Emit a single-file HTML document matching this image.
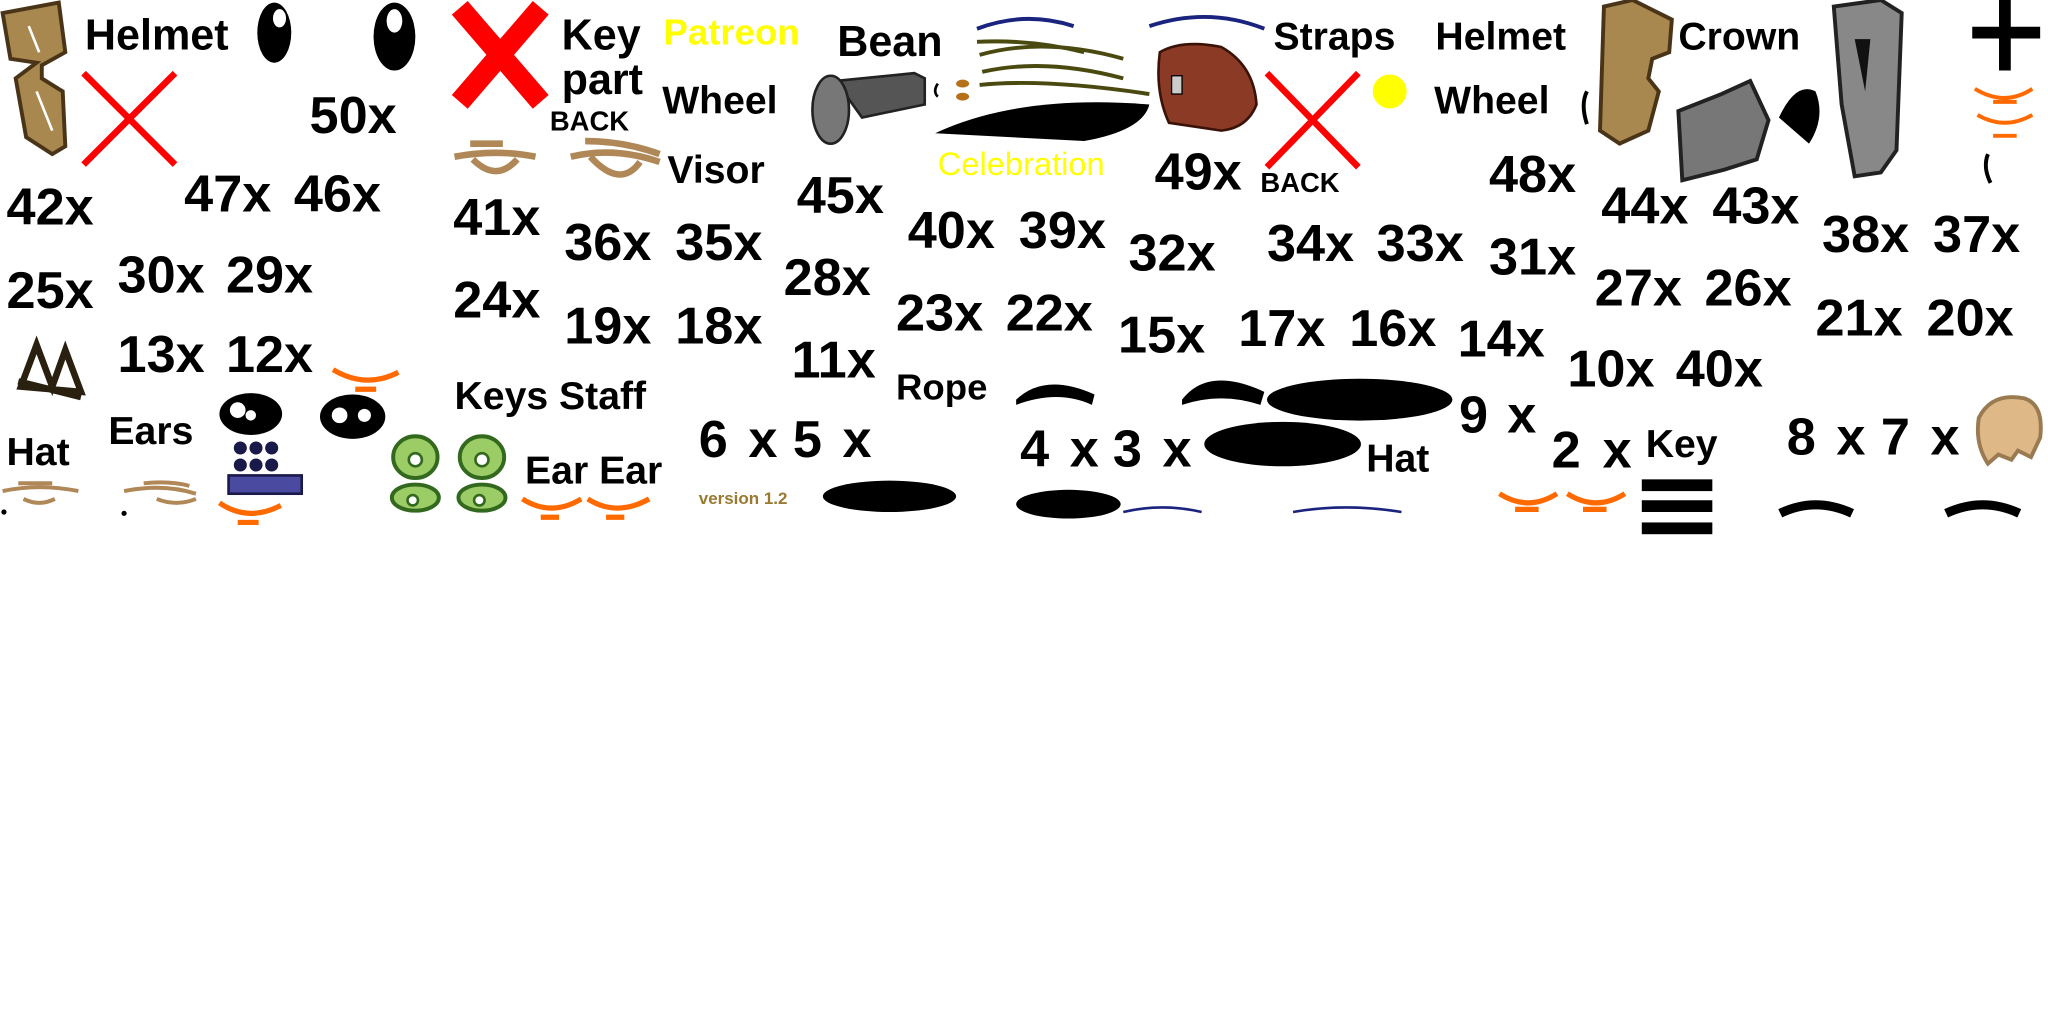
<!DOCTYPE html>
<html><head><meta charset="utf-8"><style>
html,body{margin:0;padding:0;background:#fff;width:2048px;height:1024px;overflow:hidden}
svg{display:block}
text{font-family:"Liberation Sans",Arial,sans-serif;font-weight:bold;fill:#000}
.n{font-size:40px}
.l{font-size:33px}
</style></head><body>
<svg width="2048" height="1024" viewBox="0 0 1568 784" xmlns="http://www.w3.org/2000/svg">
<rect width="1568" height="784" fill="#fff"/>
<path d="M2 10 L45 2 L50 40 L32 50 L32 60 L48 70 L50 112 L40 118 L20 105 L12 60 L28 48 L8 45 Z" fill="#a8884e" stroke="#4a3418" stroke-width="3"/>
<path d="M22 20 L30 40 M28 70 L40 100" stroke="#fff" stroke-width="2"/>
<path d="M64 56 L134 126 M134 56 L64 126" stroke="#f00" stroke-width="5"/>
<ellipse cx="210" cy="25" rx="13" ry="23" fill="#000"/><ellipse cx="214" cy="14" rx="5" ry="7" fill="#fff"/>
<ellipse cx="302" cy="28" rx="16" ry="26" fill="#000"/><ellipse cx="302" cy="16" rx="6" ry="9" fill="#fff"/>
<path d="M352 6 L414 78 M414 6 L352 78" stroke="#f00" stroke-width="16"/>
<path d="M348 120 Q380 114 410 120 M360 110 L385 110 M362 122 Q380 140 396 122" stroke="#b08858" stroke-width="5" fill="none"/>
<path d="M437 120 Q470 112 505 124 M448 108 Q478 108 505 118 M452 120 Q475 145 490 124" stroke="#b08858" stroke-width="5" fill="none"/>
<path d="M748 22 Q785 8 822 20" stroke="#1a237e" stroke-width="3" fill="none"/>
<path d="M880 20 Q925 5 968 22" stroke="#1a237e" stroke-width="3" fill="none"/>
<path d="M750 42 Q800 28 860 45 M752 55 Q800 44 860 60 M750 65 Q800 60 880 72 M748 32 Q790 30 830 40" stroke="#4a4a10" stroke-width="3" fill="none"/>
<path d="M716 102 Q780 72 880 80 Q875 100 830 108 Z" fill="#000"/>
<path d="M640 62 L700 56 L708 60 L708 80 L660 90 Z" fill="#555" stroke="#222" stroke-width="2"/>
<ellipse cx="636" cy="84" rx="14" ry="26" fill="#777" stroke="#222" stroke-width="2"/>
<path d="M718 64 Q714 70 718 74" stroke="#000" stroke-width="2" fill="none"/>
<ellipse cx="737" cy="64" rx="5" ry="3" fill="#b5701a"/><ellipse cx="737" cy="74" rx="5" ry="3" fill="#b5701a"/>
<path d="M888 40 Q905 30 935 36 Q960 50 962 80 Q955 98 935 100 L895 94 Q884 70 888 40 Z" fill="#8b3a26" stroke="#3a1208" stroke-width="2"/>
<rect x="897" y="58" width="8" height="14" fill="#ccc" stroke="#000"/>
<path d="M970 56 L1040 128 M1040 56 L970 128" stroke="#f00" stroke-width="5"/>
<circle cx="1064" cy="70" r="13" fill="#ffff00"/>
<path d="M1228 5 L1250 0 L1280 15 L1278 40 L1265 45 L1262 60 L1270 70 L1262 100 L1240 110 L1225 100 Z" fill="#a8884e" stroke="#4a3418" stroke-width="3"/>
<path d="M1215 70 Q1210 80 1215 95" stroke="#000" stroke-width="3" fill="none"/>
<path d="M1285 85 L1318 72 L1340 62 L1354 92 L1345 122 L1320 130 L1288 138 Z" fill="#777" stroke="#222" stroke-width="3"/>
<path d="M1362 90 Q1375 62 1390 70 Q1398 90 1385 110 Z" fill="#000"/>
<path d="M1404 5 L1440 0 L1456 10 L1452 115 L1440 132 L1420 135 L1410 80 Z" fill="#888" stroke="#222" stroke-width="3"/>
<path d="M1420 30 L1432 30 L1428 70 Z" fill="#111"/>
<path d="M1535 0 L1535 54 M1510 25 L1562 25" stroke="#000" stroke-width="9"/>
<path d="M1512 68 Q1535 82 1556 68 M1526 78 L1544 78 M1514 88 Q1535 100 1556 88 M1526 104 L1544 104" stroke="#ff6a00" stroke-width="3" fill="none"/>
<path d="M1522 118 Q1518 128 1524 140" stroke="#000" stroke-width="3" fill="none"/>
<path d="M16 296 L28 264 L40 296 L50 268 L62 300 Z M14 292 L62 304" stroke="#2a2010" stroke-width="5" fill="none"/>
<g stroke="#ff6a00" stroke-width="4" fill="none">
<path d="M255 283 Q280 298 305 285 M272 298 L288 298"/>
<path d="M168 385 Q190 400 215 387 M182 400 L198 400"/>
<path d="M400 382 Q422 396 445 382 M414 396 L428 396"/>
<path d="M450 382 Q472 396 497 382 M464 396 L478 396"/>
<path d="M1148 378 Q1170 392 1192 378 M1160 390 L1178 390"/>
<path d="M1200 378 Q1222 392 1244 378 M1212 390 L1230 390"/>
</g>
<ellipse cx="192" cy="317" rx="24" ry="16" fill="#000"/><circle cx="182" cy="314" r="6" fill="#fff"/><circle cx="192" cy="318" r="4" fill="#fff"/>
<ellipse cx="270" cy="319" rx="25" ry="17" fill="#000"/><circle cx="260" cy="318" r="6" fill="#fff"/><circle cx="279" cy="318" r="5" fill="#fff"/>
<g fill="#1a1a4a"><circle cx="184" cy="343" r="5"/><circle cx="196" cy="343" r="5"/><circle cx="208" cy="343" r="5"/><circle cx="184" cy="356" r="5"/><circle cx="196" cy="356" r="5"/><circle cx="208" cy="356" r="5"/></g>
<rect x="175" y="364" width="56" height="14" fill="#4a4aa0" stroke="#1a1a4a" stroke-width="2"/>
<g fill="#9ccc65" stroke="#33691e" stroke-width="3">
<ellipse cx="318" cy="350" rx="17" ry="16"/><ellipse cx="369" cy="350" rx="17" ry="16"/>
<ellipse cx="318" cy="381" rx="18" ry="10"/><ellipse cx="369" cy="381" rx="18" ry="10"/>
</g>
<g fill="#fff" stroke="#33691e" stroke-width="2"><circle cx="318" cy="352" r="5"/><circle cx="369" cy="352" r="5"/><circle cx="316" cy="383" r="4"/><circle cx="367" cy="383" r="4"/></g>
<path d="M2 376 Q30 370 60 376 M14 370 L40 370 M18 382 Q30 388 42 382" stroke="#b08858" stroke-width="3" fill="none"/>
<path d="M95 376 Q125 370 150 378 M110 370 Q130 368 145 372 M120 382 Q135 388 150 382" stroke="#b08858" stroke-width="3" fill="none"/>
<circle cx="3" cy="392" r="2" fill="#000"/><circle cx="95" cy="393" r="2" fill="#000"/>
<ellipse cx="681" cy="380" rx="51" ry="12" fill="#000"/>
<path d="M778 306 Q800 285 838 302 L836 310 Q810 298 778 310 Z" fill="#000"/>
<path d="M905 306 Q925 280 968 300 L965 310 Q935 300 905 310 Z" fill="#000"/>
<ellipse cx="1041" cy="306" rx="71" ry="16" fill="#000"/>
<ellipse cx="982" cy="340" rx="60" ry="17" fill="#000"/>
<ellipse cx="818" cy="386" rx="40" ry="11" fill="#000"/>
<path d="M860 392 Q890 385 920 392 M990 392 Q1030 385 1073 392" stroke="#1a237e" stroke-width="2" fill="none"/>
<rect x="1257" y="367" width="54" height="9" fill="#000"/><rect x="1257" y="383" width="54" height="9" fill="#000"/><rect x="1257" y="400" width="54" height="9" fill="#000"/>
<path d="M1363 393 Q1390 380 1418 393" stroke="#000" stroke-width="7" fill="none"/>
<path d="M1490 393 Q1518 380 1546 393" stroke="#000" stroke-width="7" fill="none"/>
<path d="M1515 320 Q1525 300 1550 305 Q1565 310 1562 335 L1555 350 L1545 345 L1540 352 L1530 348 L1522 355 Q1512 340 1515 320 Z" fill="#deb887" stroke="#9a7a50" stroke-width="3"/>

<text x="65" y="38" class="l">Helmet</text>
<text x="430" y="38" class="l">Key</text>
<text x="430" y="72" class="l">part</text>
<text x="421" y="100" font-size="21">BACK</text>
<text x="508" y="34" font-size="28" style="fill:#ffff00">Patreon</text>
<text x="641" y="43" class="l">Bean</text>
<text x="507" y="87" font-size="30">Wheel</text>
<text x="718" y="134" font-size="25" style="fill:#ffff00;font-weight:normal">Celebration</text>
<text x="975" y="38" font-size="30">Straps</text>
<text x="1099" y="38" font-size="30">Helmet</text>
<text x="1285" y="38" font-size="30">Crown</text>
<text x="1098" y="87" font-size="30">Wheel</text>
<text x="237" y="102" class="n">50x</text>
<text x="511" y="140" font-size="30">Visor</text>
<text x="884" y="145" class="n">49x</text>
<text x="965" y="147" font-size="21">BACK</text>
<text x="1140" y="147" class="n">48x</text>
<text x="5" y="172" class="n">42x</text>
<text x="141" y="162" class="n">47x</text><text x="225" y="162" class="n">46x</text>
<text x="610" y="163" class="n">45x</text>
<text x="347" y="180" class="n">41x</text>
<text x="432" y="199" class="n">36x</text><text x="517" y="199" class="n">35x</text>
<text x="695" y="190" class="n">40x</text><text x="780" y="190" class="n">39x</text>
<text x="864" y="207" class="n">32x</text>
<text x="970" y="200" class="n">34x</text><text x="1054" y="200" class="n">33x</text>
<text x="1140" y="210" class="n">31x</text>
<text x="1226" y="171" class="n">44x</text><text x="1311" y="171" class="n">43x</text>
<text x="1395" y="193" class="n">38x</text><text x="1480" y="193" class="n">37x</text>
<text x="5" y="236" class="n">25x</text>
<text x="90" y="224" class="n">30x</text><text x="173" y="224" class="n">29x</text>
<text x="347" y="243" class="n">24x</text>
<text x="600" y="226" class="n">28x</text>
<text x="432" y="263" class="n">19x</text><text x="517" y="263" class="n">18x</text>
<text x="686" y="253" class="n">23x</text><text x="770" y="253" class="n">22x</text>
<text x="856" y="270" class="n">15x</text>
<text x="948" y="265" class="n">17x</text><text x="1033" y="265" class="n">16x</text>
<text x="1116" y="273" class="n">14x</text>
<text x="1221" y="234" class="n">27x</text><text x="1305" y="234" class="n">26x</text>
<text x="1390" y="257" class="n">21x</text><text x="1475" y="257" class="n">20x</text>
<text x="90" y="285" class="n">13x</text><text x="173" y="285" class="n">12x</text>
<text x="606" y="289" class="n">11x</text>
<text x="1200" y="296" class="n">10x</text><text x="1283" y="296" class="n">40x</text>
<text x="348" y="313" font-size="30">Keys Staff</text>
<text x="686" y="306" font-size="28">Rope</text>
<text x="5" y="356" font-size="30">Hat</text>
<text x="83" y="340" font-size="30">Ears</text>
<text x="535" y="350" class="n">6</text><text x="573" y="350" class="n">x</text><text x="607" y="350" class="n">5</text><text x="645" y="350" class="n">x</text>
<text x="402" y="370" font-size="30">Ear Ear</text>
<text x="535" y="386" font-size="13" style="fill:#9a7a30">version 1.2</text>
<text x="781" y="357" class="n">4</text><text x="819" y="357" class="n">x</text><text x="852" y="357" class="n">3</text><text x="890" y="357" class="n">x</text>
<text x="1046" y="361" font-size="30">Hat</text>
<text x="1117" y="331" class="n">9</text><text x="1154" y="331" class="n">x</text>
<text x="1188" y="358" class="n">2</text><text x="1227" y="358" class="n">x</text>
<text x="1260" y="350" font-size="30">Key</text>
<text x="1368" y="348" class="n">8</text><text x="1406" y="348" class="n">x</text><text x="1440" y="348" class="n">7</text><text x="1478" y="348" class="n">x</text>
</svg>
</body></html>
